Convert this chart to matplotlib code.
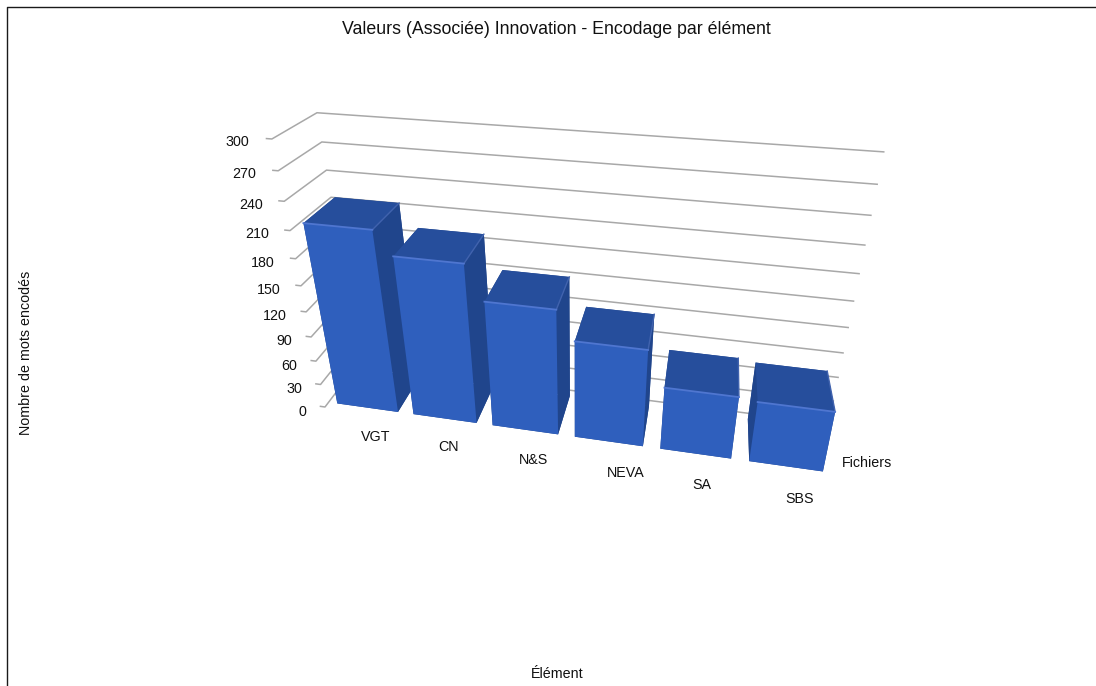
import numpy as np
import matplotlib
matplotlib.use("Agg")
import matplotlib.pyplot as plt
from matplotlib.lines import Line2D

plt.rcParams['font.family'] = ['Liberation Sans', 'DejaVu Sans']

categories = ['VGT', 'CN', 'N&S', 'NEVA', 'SA', 'SBS']
values = [215, 189, 150, 117, 76, 73]
y_ticks = [0, 30, 60, 90, 120, 150, 180, 210, 240, 270, 300]
title = 'Valeurs (Associée) Innovation - Encodage par élément'
y_title = 'Nombre de mots encodés'
x_title = 'Élément'
depth_title = 'Fichiers'

W, H = 1096, 686
FRONT, TOP, SIDE = '#2F5FBD', '#264E9C', '#20458C'
EDGE_FRONT, EDGE_SIDE = '#4F76D0', '#4163AE'
GRID = '#A8A8A8'
INK = '#111111'
FS = 10.3

fig = plt.figure(figsize=(W / 100, H / 100), dpi=100, facecolor='white')
ax = fig.add_axes([0, 0, 1, 1], projection='3d')
ax.set_axis_off()
ax.set_xticks([])
ax.set_yticks([])
ax.set_zticks([])
ax.computed_zorder = False

# Camera of the chart: pixel position (homogeneous) of the data axes directions
n_cat = len(categories)
cam = np.array([
    [-3736 * -0.1123 / n_cat, 65.7, -100.6 / 300, 325.0],
    [-167 * -0.1123 / n_cat, -11.5, -292.3 / 300, 407.0],
    [-0.1123 / n_cat, 0.09, -0.1747 / 300, 1.0],
])


def get_proj():
    flip = np.array([[1, 0, 0], [0, -1, H], [0, 0, 1]], float)
    rows = ax.transData.inverted().get_matrix() @ flip @ cam
    return np.array([rows[0], rows[1], [0, 0, 0, -1], rows[2]])


ax.get_proj = get_proj
ax.apply_aspect = lambda position=None: None


def label(x, y, z, s, **kw):
    """Text anchored at a 3D data position, placed through the camera."""
    px, py, pw = cam @ np.array([x, y, z, 1.0])
    fig.text(px / pw / W, 1 - py / pw / H, s, va='center', fontsize=FS, color=INK, **kw)


# Gridlines, tick stubs and value labels
for v in y_ticks:
    ax.plot([-0.06, 0, 0, n_cat], [0, 0, 1, 1], [v, v, v, v],
            color=GRID, lw=1.1, zorder=0, solid_joinstyle='round')
    label(-0.25, -0.02, v - 9 + 0.017 * v, str(v), ha='right')

# Bars
bar_w, y0, bar_d = 0.79, 0.1, 0.78
for i, v in enumerate(values):
    x0 = 0.115 + i * 0.988
    ax.bar3d([x0], [y0], [0], bar_w, bar_d, [v], shade=False,
             color=[SIDE, TOP, FRONT, SIDE, SIDE, SIDE], zorder=2 + i * 2)
    ax.plot([x0 + bar_w, x0 + bar_w], [y0, y0 + bar_d], [v, v],
            color=EDGE_SIDE, lw=1.0, zorder=3 + i * 2)
    ax.plot([x0, x0 + bar_w], [y0, y0], [v, v],
            color=EDGE_FRONT, lw=1.3, zorder=3 + i * 2)

# Category labels
label_nudge = [0.03, -0.04, 0.0, 0.08, -0.05, 0.01]
for i, c in enumerate(categories):
    label(i + 0.8 - 0.05 * i + label_nudge[i], -0.4, 0, c, ha='center')
label(n_cat + 0.07, 0.3, 0, depth_title, ha='left')

# Titles
fig.text(556 / W, 1 - 30 / H, title, ha='center', va='center', fontsize=12.75, color=INK)
fig.text(26 / W, 1 - 353 / H, y_title, ha='center', va='center', rotation=90,
         fontsize=FS, color=INK)
fig.text(557 / W, 1 - 673.5 / H, x_title, ha='center', va='center', fontsize=FS, color=INK)

# Outer frame (left and top only)
fig.add_artist(Line2D([7 / W, 7 / W, 1], [0, 1 - 7 / H, 1 - 7 / H],
                      color='#1A1A1A', lw=1.0, transform=fig.transFigure))

fig.savefig('out.png', dpi=100)
